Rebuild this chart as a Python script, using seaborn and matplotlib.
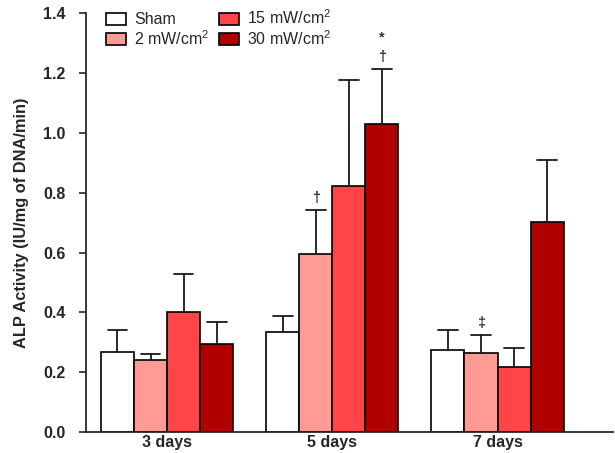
import pandas as pd
import numpy as np
import matplotlib
matplotlib.use("Agg")
import matplotlib.pyplot as plt
import seaborn as sns

# Values
days = ["3 days", "5 days", "7 days"]
groups = ["Sham", "2 mW/cm$^2$", "15 mW/cm$^2$", "30 mW/cm$^2$"]
sham = [0.268, 0.333, 0.273]
mw2 = [0.240, 0.596, 0.263]
mw15 = [0.401, 0.824, 0.217]
mw30 = [0.296, 1.029, 0.702]
sham_sd = [0.074, 0.054, 0.068]
mw2_sd = [0.022, 0.145, 0.062]
mw15_sd = [0.126, 0.352, 0.063]
mw30_sd = [0.071, 0.184, 0.207]
colors = ["#FFFFFF", "#FF9A94", "#FF4545", "#B00000"]

# significance marks: (day index, group index, text)
marks = [(1, 1, "†"), (1, 3, "†"), (1, 3, "*"), (2, 1, "‡")]

sns.set_style("ticks")
plt.rcParams["font.family"] = ["Liberation Sans", "DejaVu Sans"]
plt.rcParams["mathtext.default"] = "regular"

rows = []
for g, vals in zip(groups, [sham, mw2, mw15, mw30]):
    for d, v in zip(days, vals):
        rows.append({"Day": d, "Group": g, "ALP": v})
df = pd.DataFrame(rows)
sds = [sham_sd, mw2_sd, mw15_sd, mw30_sd]

fig = plt.figure(figsize=(6.15, 4.53), dpi=100)
ax = fig.add_axes([0.14, 0.046, 0.857, 0.925])
sns.barplot(data=df, x="Day", y="ALP", hue="Group", hue_order=groups,
            palette=colors, edgecolor="black", linewidth=1.2,
            width=0.8, errorbar=None, saturation=1, ax=ax)

# one-sided error bars
for cont, sd in zip(ax.containers, sds):
    for bar, e in zip(cont.patches, sd):
        xc = bar.get_x() + bar.get_width() / 2
        top = bar.get_height()
        ax.plot([xc, xc], [top, top + e], color="#1a1a1a", lw=1.3, zorder=1)
        ax.plot([xc - bar.get_width() * 0.3, xc + bar.get_width() * 0.3],
                [top + e, top + e], color="#1a1a1a", lw=1.3, zorder=1)

# significance symbols
stack = {}
for di, gi, txt in marks:
    bar = ax.containers[gi].patches[di]
    xc = bar.get_x() + bar.get_width() / 2
    base = bar.get_height() + sds[gi][di]
    n = stack.get((di, gi), 0)
    ax.text(xc, base + 0.018 + n * 0.065, txt, ha="center", va="bottom",
            fontsize=10.5, fontweight="bold", color="#333333")
    stack[(di, gi)] = n + 1

ax.set_ylim(0, 1.4)
ax.set_xlim(-0.49, 2.7)
ax.set_yticks(np.arange(0, 1.41, 0.2))
ax.set_yticklabels([f"{t:.1f}" for t in np.arange(0, 1.41, 0.2)],
                   fontweight="bold", fontsize=11.5)
ax.set_xticklabels(days, fontweight="bold", fontsize=11.5)
ax.tick_params(axis="x", length=0, pad=2)
ax.tick_params(axis="y", length=5, width=1.2, direction="out", pad=10)
ax.set_xlabel("")
ax.set_ylabel("ALP Activity (IU/mg of DNA/min)", fontweight="bold",
              fontsize=11.8, labelpad=10)
sns.despine(ax=ax)
ax.spines["left"].set_linewidth(1.3)
ax.spines["bottom"].set_linewidth(1.3)

ax.legend(title=None, ncol=2, frameon=False, loc="upper left",
          bbox_to_anchor=(0.01, 1.045), fontsize=11.5, handlelength=1.25,
          handleheight=0.8, columnspacing=0.55, labelspacing=0.1,
          handletextpad=0.55)

plt.savefig("out.png", dpi=100)
